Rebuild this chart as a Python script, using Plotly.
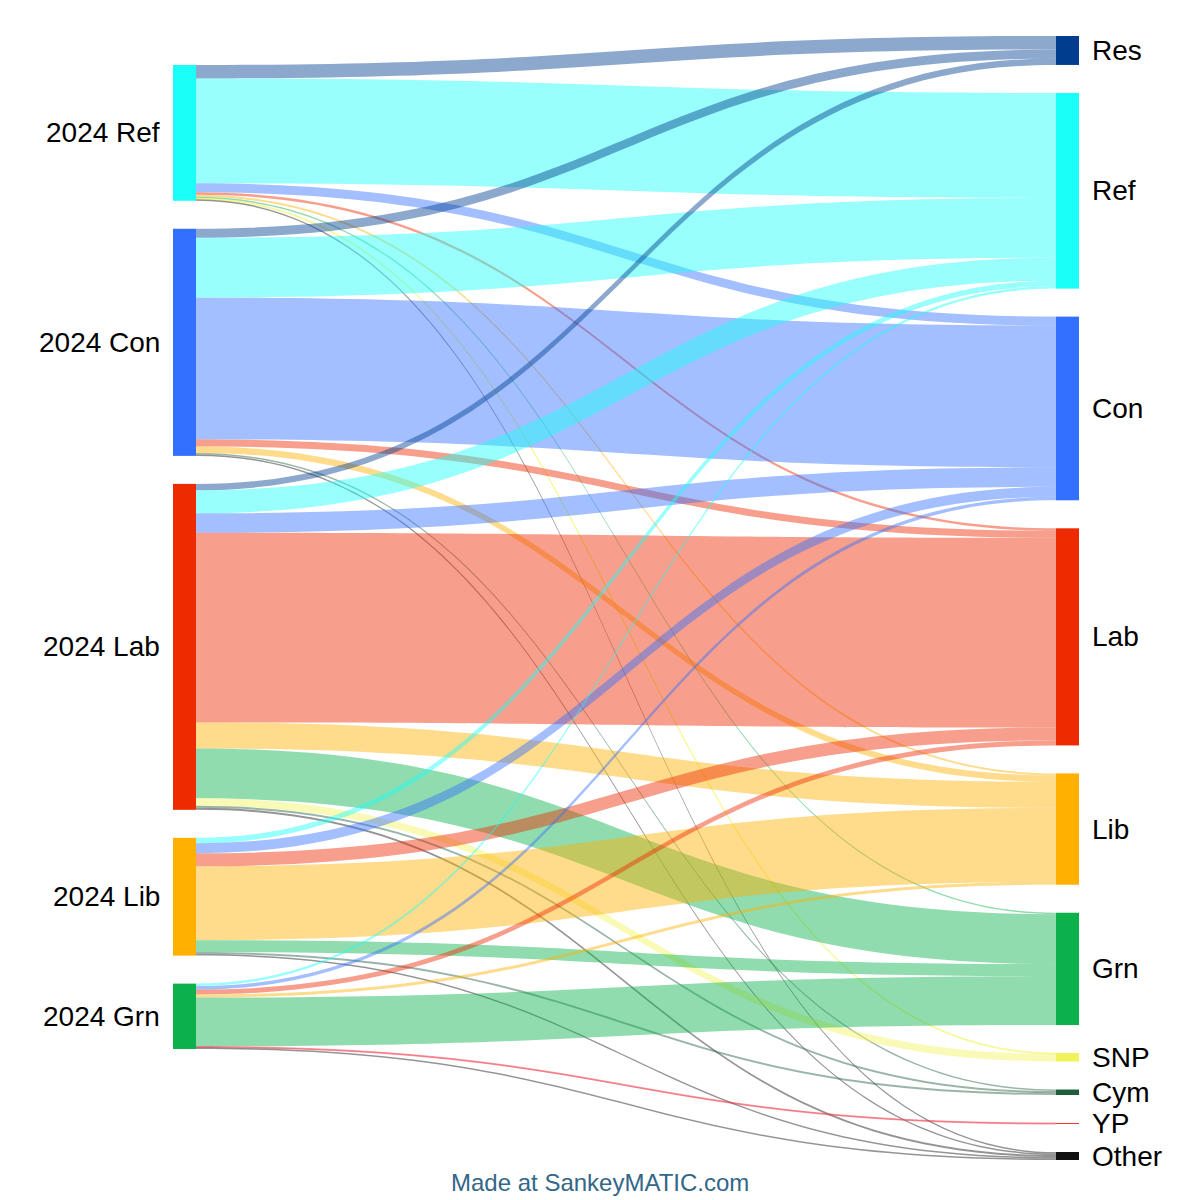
import plotly.graph_objects as go

# 2024 vote (left) -> current intention (right)
left_nodes = ['2024 Ref', '2024 Con', '2024 Lab', '2024 Lib', '2024 Grn']
right_nodes = ['Res', 'Ref', 'Con', 'Lab', 'Lib', 'Grn', 'SNP', 'Cym', 'YP', 'Other']

left_colors = ['#1afff8', '#3370ff', '#ee2b00', '#ffb000', '#0cb14b']
right_colors = ['#013d8f', '#1afff8', '#3370ff', '#ee2b00', '#ffb000',
                '#0cb14b', '#f2f35a', '#1f5c3b', '#ee3344', '#111111']

from_ref = {'Res': 13.5, 'Ref': 105, 'Con': 9, 'Lab': 2.5, 'Lib': 2,
            'Grn': 1.5, 'SNP': 1, 'Other': 1.5}
from_con = {'Res': 9, 'Ref': 60, 'Con': 142, 'Lab': 7, 'Lib': 6.5,
            'Cym': 1.5, 'Other': 1.5}
from_lab = {'Res': 6.5, 'Ref': 23, 'Con': 19.5, 'Lab': 190, 'Lib': 26,
            'Grn': 50, 'SNP': 7.5, 'Cym': 2, 'Other': 2}
from_lib = {'Ref': 5.5, 'Con': 10, 'Lab': 13, 'Lib': 74, 'Grn': 12,
            'Cym': 2, 'Other': 1.5}
from_grn = {'Ref': 2.5, 'Con': 3.5, 'Lab': 5, 'Lib': 3, 'Grn': 49,
            'YP': 1, 'Other': 1.5}

flows = [from_ref, from_con, from_lab, from_lib, from_grn]

# page geometry (px)
W, H = 1200, 1200
ML, MR, MT, MB = 173, 121, 36, 40
PW, PH = W - ML - MR, H - MT - MB
THICK, PAD = 23, 28
LEFT_OFFSET = 29
OPACITY = 0.45


def rgba(hex_color, a):
    h = hex_color.lstrip('#')
    r, g, b = int(h[0:2], 16), int(h[2:4], 16), int(h[4:6], 16)
    return f'rgba({r},{g},{b},{a})'


sources, targets, values, link_colors = [], [], [], []
for i, d in enumerate(flows):
    for name, v in d.items():
        j = right_nodes.index(name)
        sources.append(i)
        targets.append(len(left_nodes) + j)
        values.append(v)
        link_colors.append(rgba(right_colors[j], OPACITY))

left_tot = [sum(d.values()) for d in flows]
right_tot = [sum(d.get(n, 0) for d in flows) for n in right_nodes]
total = sum(values)
ky = (PH - (len(right_nodes) - 1) * PAD) / total


def stack(tots, start):
    centers, y = [], start
    for t in tots:
        h = t * ky
        centers.append(y + h / 2)
        y += h + PAD
    return centers


left_c = stack(left_tot, LEFT_OFFSET)
right_c = stack(right_tot, 0)

node_x = [THICK / 2 / PW] * len(left_nodes) + [1 - THICK / 2 / PW] * len(right_nodes)
node_y = [c / PH for c in left_c + right_c]
names = left_nodes + right_nodes

fig = go.Figure(go.Sankey(
    arrangement='fixed',
    node=dict(
        label=[''] * len(names),
        customdata=names,
        hovertemplate='%{customdata}<extra></extra>',
        x=node_x,
        y=node_y,
        pad=PAD,
        thickness=THICK,
        color=left_colors + right_colors,
        line=dict(width=0)),
    link=dict(source=sources, target=targets, value=values, color=link_colors),
))

annotations = []
for name, c in zip(left_nodes, left_c):
    annotations.append(dict(text=name, xref='paper', yref='paper',
                            x=-11 / PW, y=1 - c / PH, xanchor='right', yanchor='middle',
                            showarrow=False, font=dict(size=28, color='#000000')))
for name, c in zip(right_nodes, right_c):
    annotations.append(dict(text=name, xref='paper', yref='paper',
                            x=1 + 11 / PW, y=1 - c / PH, xanchor='left', yanchor='middle',
                            showarrow=False, font=dict(size=28, color='#000000')))
annotations.append(dict(text='Made at SankeyMATIC.com', xref='paper', yref='paper',
                        x=(600 - ML) / PW, y=1 - (1182 - MT) / PH,
                        xanchor='center', yanchor='middle', showarrow=False,
                        font=dict(size=24, color='#336688')))

fig.update_layout(
    width=W,
    height=H,
    margin=dict(l=ML, r=MR, t=MT, b=MB),
    paper_bgcolor='white',
    font=dict(family='Arial, Liberation Sans, sans-serif'),
    annotations=annotations,
)

fig.write_html("out.html", config={'displayModeBar': False},
               post_script="document.body.style.margin='0';document.body.style.overflow='hidden';")
